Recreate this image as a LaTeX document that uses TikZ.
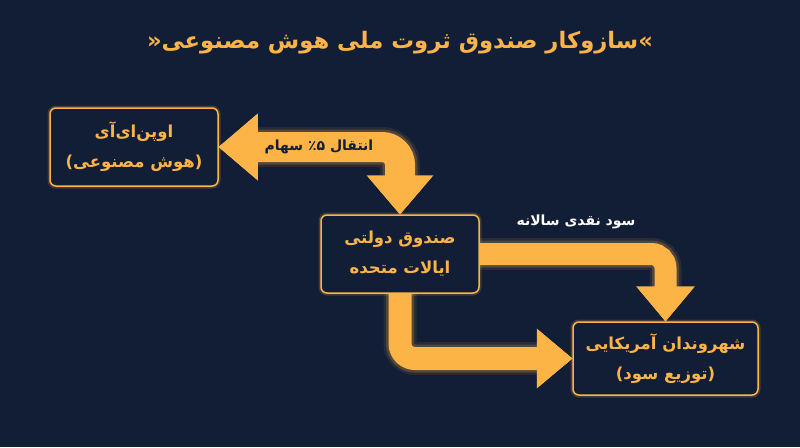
\documentclass[tikz,border=0pt]{standalone}
\usepackage{fontspec}
\usetikzlibrary{arrows.meta}
\TeXXeTstate=1
\newfontfamily\farsi[Script=Arabic]{DejaVu Sans}
\newcommand{\rtltext}[1]{\beginR #1\endR}
\definecolor{navy}{HTML}{121D36}
\definecolor{amber}{HTML}{FDB447}

\tikzset{
	box/.style={draw=amber, line width=1.5pt, rounded corners=6pt, fill=navy,
		text=amber, align=center, inner sep=0pt,
		font=\farsi\bfseries\fontsize{16.5}{30}\selectfont,
		preaction={draw=amber, line width=5pt, draw opacity=.2}},
	tip/.tip={Triangle[length=19pt 0.5, width=27pt 1, line width=0pt]},
	flow/.style={draw=amber, line width=#1,
		preaction={draw=amber, draw opacity=.1, line width=#1+10pt},
		preaction={draw=amber, draw opacity=.2, line width=#1+5pt}},
}

\begin{document}
\begin{tikzpicture}[x=1pt, y=-1pt]

	\fill[navy] (0,0) rectangle (800,447);

	\node[text=amber, font=\farsi\bfseries\fontsize{22.7}{30}\selectfont] (title) at (400,43)
		{\rtltext{»سازوکار صندوق ثروت ملی هوش مصنوعی«}};

	\node[box, minimum width=168pt, minimum height=78pt] (openai) at (134,147)
		{\rtltext{اوپن‌ای‌آی}\\\rtltext{(هوش مصنوعی)}};
	\node[box, minimum width=158pt, minimum height=78pt] (fund) at (400,254)
		{\rtltext{صندوق دولتی}\\\rtltext{ایالات متحده}};
	\node[box, minimum width=185pt, minimum height=73pt] (citizens) at (665.5,358.5)
		{\rtltext{شهروندان آمریکایی}\\\rtltext{(توزیع سود)}};

	\draw[flow=30pt, tip-tip, rounded corners=18pt] (openai.east) -| (fund.north);
	\draw[flow=22pt, -tip, rounded corners=14pt] (fund.east) -| (citizens.north);
	\draw[flow=23pt, -tip, rounded corners=15pt] (fund.south) |- (citizens.west);

	\node[text=navy, font=\farsi\bfseries\fontsize{14}{18}\selectfont] (share) at (319,147)
		{\rtltext{انتقال ٪۵ سهام}};
	\node[text=white, font=\farsi\bfseries\fontsize{14}{18}\selectfont] (dividend) at (576,222)
		{\rtltext{سود نقدی سالانه}};

\end{tikzpicture}
\end{document}
